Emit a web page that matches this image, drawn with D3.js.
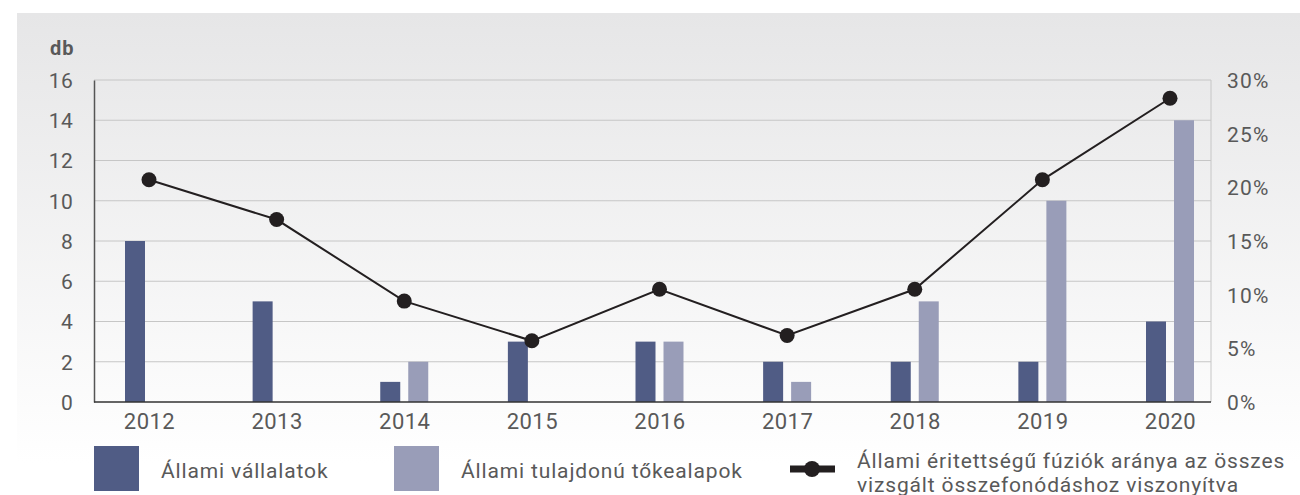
<!DOCTYPE html>
<html><head><meta charset="utf-8">
<script src="https://cdn.jsdelivr.net/npm/d3@7"></script>
<style>
html,body{margin:0;padding:0;background:#fff;}
svg{display:block;font-family:Roboto,"Noto Sans",sans-serif;}
</style></head>
<body><svg id="c" width="1300" height="495"></svg>
<script>
const years = ["2012","2013","2014","2015","2016","2017","2018","2019","2020"];
const stateCompanies = [8,5,1,3,3,2,2,2,4];
const stateFunds = [0,0,2,0,3,1,5,10,14];
const sharePct = [20.7,17.0,9.4,5.7,10.5,6.2,10.5,20.7,28.3];
const leftTicks = [0,2,4,6,8,10,12,14,16];
const rightTicks = [0,5,10,15,20,25,30];
const legendLabels = ["Állami vállalatok","Állami tulajdonú tőkealapok",["Állami éritettségű fúziók aránya az összes","vizsgált összefonódáshoz viszonyítva"]];

const svg = d3.select("#c");
const defs = svg.append("defs");
const grad = defs.append("linearGradient").attr("id","bg").attr("x1",0).attr("y1",0).attr("x2",0).attr("y2",1);
grad.append("stop").attr("offset","0%").attr("stop-color","#e6e6e7");
grad.append("stop").attr("offset","100%").attr("stop-color","#ffffff");
svg.append("rect").attr("x",17).attr("y",13).attr("width",1283).attr("height",450).attr("fill","url(#bg)");

const L = 94, R = 1211, T = 80, B = 402;
const x = d3.scalePoint().domain(years).range([149,1170]);
const y = d3.scaleLinear().domain([0,16]).range([B,T]);
const y2 = d3.scaleLinear().domain([0,30]).range([B,T]);
const barW = 20, off = 14;
const textCol = "#595959";

// gridlines
svg.append("g").selectAll("line").data(leftTicks.filter(d=>d>0)).join("line")
  .attr("x1",L).attr("x2",R).attr("y1",d=>y(d)).attr("y2",d=>y(d))
  .attr("stroke","#c6c6c6").attr("stroke-width",1);
svg.append("line").attr("x1",R).attr("x2",R).attr("y1",T).attr("y2",B).attr("stroke","#c6c6c6");

// bars
svg.append("g").selectAll("rect").data(years).join("rect")
  .attr("x",d=>x(d)-off-barW/2).attr("width",barW)
  .attr("y",(d,i)=>y(stateCompanies[i])).attr("height",(d,i)=>B-y(stateCompanies[i]))
  .attr("fill","#505c85");
svg.append("g").selectAll("rect").data(years).join("rect")
  .attr("x",d=>x(d)+off-barW/2).attr("width",barW)
  .attr("y",(d,i)=>y(stateFunds[i])).attr("height",(d,i)=>B-y(stateFunds[i]))
  .attr("fill","#999db8");

// axes
const la = svg.append("g").attr("transform",`translate(${L},0)`)
  .call(d3.axisLeft(y).tickValues(leftTicks).tickSize(0).tickPadding(21));
la.select(".domain").attr("stroke","#555").attr("stroke-width",1.5);
la.selectAll("text").attr("font-size",21).attr("fill",textCol).attr("font-family","Roboto").attr("dy","0.35em").attr("letter-spacing",0.3);

const ba = svg.append("g").attr("transform",`translate(0,${B})`)
  .call(d3.axisBottom(x).tickSize(0).tickPadding(11));
ba.select(".domain").attr("d",`M${L},0H${R}`).attr("stroke","#333").attr("stroke-width",1.5);
ba.selectAll("text").attr("font-size",22).attr("fill",textCol).attr("font-family","Roboto").attr("letter-spacing",0.5);

const ra = svg.append("g").attr("transform",`translate(${R},0)`)
  .call(d3.axisRight(y2).tickValues(rightTicks).tickSize(0).tickPadding(16).tickFormat(d=>d+"%"));
ra.select(".domain").remove();
ra.selectAll("text").attr("font-size",21).attr("fill",textCol).attr("font-family","Roboto").attr("dy","0.35em").attr("letter-spacing",1.2);

svg.append("text").attr("x",50).attr("y",55).text("db").attr("font-size",20).attr("font-weight","bold").attr("fill",textCol).attr("letter-spacing",1);

// line
const line = d3.line().x((d,i)=>x(years[i])).y(d=>y2(d));
svg.append("path").datum(sharePct).attr("d",line).attr("fill","none").attr("stroke","#231f20").attr("stroke-width",2);
svg.append("g").selectAll("circle").data(sharePct).join("circle")
  .attr("cx",(d,i)=>x(years[i])).attr("cy",d=>y2(d)).attr("r",7.5).attr("fill","#231f20");

// legend
const lg = svg.append("g").attr("letter-spacing",0.85);
lg.append("rect").attr("x",94).attr("y",446).attr("width",45).attr("height",45).attr("fill","#505c85");
lg.append("text").attr("x",161).attr("y",478).text(legendLabels[0]).attr("font-size",21).attr("fill",textCol);
lg.append("rect").attr("x",394).attr("y",446).attr("width",45).attr("height",45).attr("fill","#999db8");
lg.append("text").attr("x",461).attr("y",478).text(legendLabels[1]).attr("font-size",21).attr("fill",textCol);
lg.append("line").attr("x1",790).attr("x2",835).attr("y1",469).attr("y2",469).attr("stroke","#231f20").attr("stroke-width",7);
lg.append("circle").attr("cx",812).attr("cy",469).attr("r",8).attr("fill","#231f20");
const t3 = lg.append("text").attr("font-size",21).attr("fill",textCol);
t3.append("tspan").attr("x",857).attr("y",468).text(legendLabels[2][0]);
t3.append("tspan").attr("x",857).attr("y",492).text(legendLabels[2][1]);
</script></body></html>
